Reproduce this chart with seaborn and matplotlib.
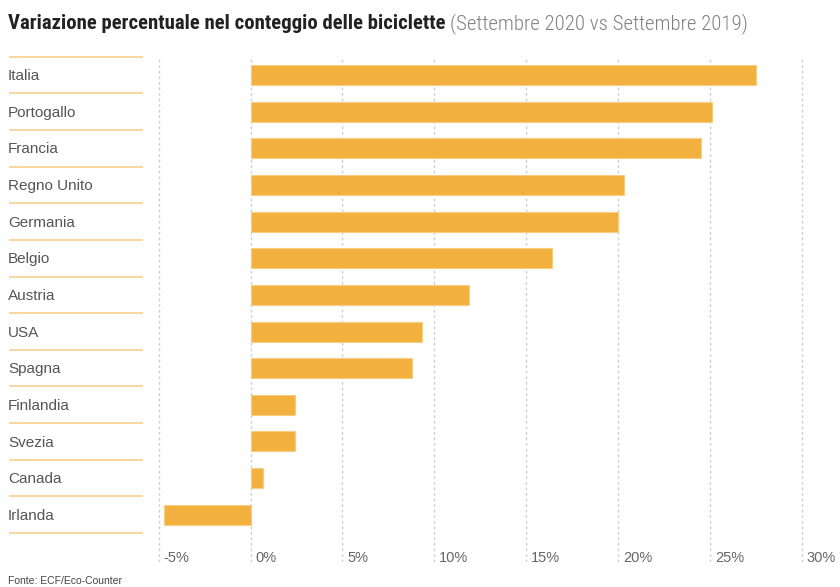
import matplotlib
matplotlib.use("Agg")
import matplotlib.pyplot as plt
import seaborn as sns
import pandas as pd
from matplotlib.transforms import blended_transform_factory, offset_copy

paesi = ["Italia", "Portogallo", "Francia", "Regno Unito", "Germania", "Belgio",
         "Austria", "USA", "Spagna", "Finlandia", "Svezia", "Canada", "Irlanda"]
variazione = [27.5, 25.1, 24.5, 20.3, 20.0, 16.4, 11.9, 9.35, 8.8, 2.4, 2.4, 0.7, -4.7]
tick_vals = [-5, 0, 5, 10, 15, 20, 25, 30]
tick_labels = ["-5%", "0%", "5%", "10%", "15%", "20%", "25%", "30%"]

sns.set_style("white")
plt.rcParams["font.family"] = ["Liberation Sans", "DejaVu Sans"]

W, H = 840, 587
fig = plt.figure(figsize=(W / 100, H / 100), dpi=100)
ax_left, ax_right, ax_top, ax_bot = 150, 830, 56.7, 562
ax = fig.add_axes([ax_left / W, 1 - ax_bot / H, (ax_right - ax_left) / W, (ax_bot - ax_top) / H])

df = pd.DataFrame({"paese": paesi, "valore": variazione})
bar_color = "#F2B13F"
sns.barplot(data=df, x="valore", y="paese", order=paesi, orient="h", color=bar_color,
            width=0.546, edgecolor="#F8CF82", linewidth=0.8, saturation=1, ax=ax, zorder=3)

ax.set_xlim(-5.476, 31.54)
ax.set_ylim(13.29, -0.5)
ax.set_xticks(tick_vals)
ax.set_xticklabels([])
ax.set_yticks([])
ax.set_xlabel("")
ax.set_ylabel("")
ax.tick_params(length=0)
for s in ax.spines.values():
    s.set_visible(False)
ax.grid(axis="x", color="#cfcfcf", linestyle=(0, (2, 2)), linewidth=1, zorder=0)
ax.grid(axis="y", visible=False)

# x tick labels: left-aligned, right of the gridline
tr = offset_copy(blended_transform_factory(ax.transData, ax.transAxes), fig=fig, x=5, y=0, units="dots")
for v, lab in zip(tick_vals, tick_labels):
    ax.text(v, 0, lab, transform=tr, ha="left", va="baseline", fontsize=10.5, color="#666666")

# category labels and separators
trb = blended_transform_factory(ax.transAxes, ax.transData)
x_lab = (8 - ax_left) / (ax_right - ax_left)
x0 = (9 - ax_left) / (ax_right - ax_left)
x1 = (143 - ax_left) / (ax_right - ax_left)
for i, p in enumerate(paesi):
    ax.text(x_lab, i + 0.03, p, transform=trb, ha="left", va="center", fontsize=11, color="#555555")
seps = [i - 0.5 for i in range(len(paesi) + 1)]
ax.hlines(seps, x0, x1, transform=trb, colors="#F9D396", linewidth=1.3, clip_on=False)

# title (condensed face, size fitted to the reference width)
fam_c = ["Roboto Condensed", "DejaVu Sans Condensed", "Liberation Sans Narrow", "Roboto", "DejaVu Sans"]
base_y = 1 - 29.3 / H
t1 = fig.text(8 / W, base_y, "Variazione percentuale nel conteggio delle biciclette",
              fontsize=16, fontweight="bold", fontstretch="condensed", family=fam_c,
              color="#222222", va="baseline", ha="left")
fig.canvas.draw()
bb = t1.get_window_extent()
t1.set_fontsize(16 * (445 - 8) / bb.width)
fig.canvas.draw()
bb = t1.get_window_extent()
t2 = fig.text((bb.x1 + 4) / W, base_y, "(Settembre 2020 vs Settembre 2019)",
              fontsize=16, fontweight="light", fontstretch="condensed", family=fam_c,
              color="#808080", va="baseline", ha="left")
fig.canvas.draw()
bb2 = t2.get_window_extent()
t2.set_fontsize(16 * (748 - bb.x1 - 4) / bb2.width)

fig.text(8 / W, 1 - 584 / H, "Fonte: ECF/Eco-Counter", fontsize=7.5, color="#444444",
         va="baseline", ha="left")

fig.savefig("out.png", dpi=100)
